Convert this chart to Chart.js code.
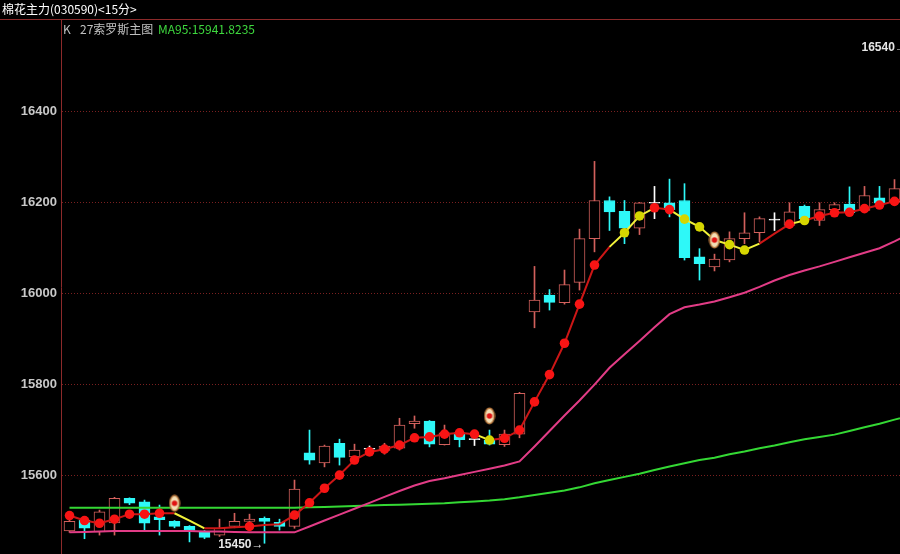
<!DOCTYPE html>
<html>
<head>
<meta charset="utf-8">
<script src="https://cdn.jsdelivr.net/npm/chart.js@4.4.1/dist/chart.umd.min.js"></script>
<style>
  html, body { margin: 0; padding: 0; background: #000; }
</style>
</head>
<body>
<canvas id="kline" width="900" height="554"></canvas>
<script>
// 15-minute bars, left to right
const open  = [15477,15501,15475,15495,15549,15541,15508,15498,15487,15476,15468,15487,15498,15505,15496,15487,15649,15627,15670,15640,15658,15654,15659,15713,15719,15667,15693,15679,15677,15667,15690,15959,15996,15979,16024,16120,16204,16180,16143,16199,16199,16204,16080,16058,16073,16120,16133,16162,16149,16191,16160,16184,16196,16182,16210,16201];
const high  = [15502,15503,15523,15551,15550,15545,15534,15500,15489,15478,15503,15516,15514,15508,15503,15589,15699,15666,15679,15668,15664,15670,15725,15730,15720,15710,15696,15695,15699,15699,15782,16059,16008,16051,16141,16290,16212,16204,16200,16235,16251,16241,16098,16086,16135,16177,16168,16177,16199,16194,16199,16199,16234,16235,16235,16250];
const low   = [15474,15460,15468,15468,15535,15476,15468,15484,15453,15460,15465,15484,15490,15450,15479,15483,15624,15618,15622,15637,15650,15646,15655,15703,15662,15666,15662,15665,15666,15663,15682,15924,15963,15976,16007,16091,16138,16109,16129,16164,16168,16073,16029,16049,16069,16109,16113,16138,16142,16156,16149,16180,16170,16178,16190,16195];
const close = [15498,15483,15519,15549,15538,15494,15502,15487,15478,15463,15483,15498,15503,15498,15487,15569,15633,15664,15639,15655,15658,15664,15710,15719,15668,15693,15678,15679,15668,15690,15780,15985,15980,16019,16120,16204,16179,16143,16199,16199,16184,16078,16065,16075,16120,16133,16164,16162,16179,16164,16184,16195,16177,16215,16198,16230];

// indicator line (one more point than bars, runs off the right edge)
const trend = [15511,15500,15494,15503,15514,15514,15516,15516,15500,15483,15483,15485,15487,15490,15492,15512,15539,15571,15600,15633,15651,15657,15666,15682,15684,15690,15693,15690,15677,15681,15699,15761,15821,15890,15976,16062,16102,16133,16170,16188,16184,16163,16146,16117,16107,16095,16109,16131,16152,16160,16170,16177,16178,16186,16194,16202,16212];
// dot type per point: r = red, y = yellow, '' = none
const trendDot = ['r','r','r','r','r','r','r','','','','','','r','','','r','r','r','r','r','r','r','r','r','r','r','r','r','y','r','r','r','r','r','r','r','','y','y','r','r','y','y','','y','y','','','r','y','r','r','r','r','r','r',''];
// segments starting at these points are drawn yellow
const yellowFrom = [7,8,27,36,37,38,40,41,42,43,44,45,48];

const maPink  = [15474,15475,15476,15477,15477,15477,15477,15477,15477,15476,15476,15475,15474,15474,15474,15474,15487,15500,15513,15526,15539,15552,15565,15577,15587,15593,15600,15607,15614,15621,15630,15663,15697,15731,15764,15799,15836,15866,15895,15925,15954,15969,15975,15982,15991,16001,16014,16028,16040,16050,16059,16069,16079,16089,16099,16114,16130];
const maGreen = [15528,15528,15528,15528,15528,15528,15528,15528,15528,15528,15528,15528,15528,15528,15528,15528,15529,15530,15531,15532,15533,15534,15535,15536,15537,15538,15540,15542,15544,15547,15551,15556,15561,15566,15573,15582,15589,15596,15603,15611,15619,15626,15633,15638,15646,15652,15659,15665,15672,15679,15684,15689,15697,15705,15713,15722,15730];

// signal markers: bar index and price
const signalAt  = [7, 28, 43];
const signalVal = [15538, 15730, 16117];

const yTicks = [15600, 15800, 16000, 16200, 16400];
const yMin = 15426.4, yMax = 16601;
const xMin = -0.5667, xMax = 55.3667;

const hiMark = { at: 52.8, value: 16540, text: '16540\u2192' };
const loMark = { at: 13, value: 15450, text: '15450\u2192' };

const UP = '#d2605c', DOWN = '#2ef8f8', FLAT = '#ffffff';
const RED_LINE = '#cc1616', YELLOW_LINE = '#f2f23a';

const idx = open.map((_, i) => i);
const tone = i => close[i] > open[i] ? UP : (close[i] < open[i] ? DOWN : FLAT);

function markerImage() {
  const c = document.createElement('canvas');
  c.width = 12; c.height = 18;
  const g = c.getContext('2d');
  g.fillStyle = '#b8783e';
  g.beginPath(); g.ellipse(6, 9, 5.5, 8.5, 0, 0, Math.PI * 2); g.fill();
  g.fillStyle = '#f3dfb6';
  g.beginPath(); g.ellipse(6, 9, 4, 7, 0, 0, Math.PI * 2); g.fill();
  g.fillStyle = '#e01212';
  g.beginPath(); g.arc(6, 9, 2.8, 0, Math.PI * 2); g.fill();
  return c;
}

const chrome = {
  id: 'chrome',
  beforeDraw(chart) {
    const ctx = chart.ctx;
    ctx.save();
    ctx.fillStyle = '#000';
    ctx.fillRect(0, 0, chart.width, chart.height);
    ctx.restore();
  },
  afterDraw(chart) {
    const ctx = chart.ctx;
    const xs = chart.scales.x, ys = chart.scales.y;
    ctx.save();
    ctx.strokeStyle = '#8c2a2a';
    ctx.lineWidth = 1;
    ctx.beginPath();
    ctx.moveTo(0, 19.5); ctx.lineTo(chart.width, 19.5);
    ctx.stroke();

    ctx.textBaseline = 'middle';
    ctx.font = '12px "Noto Sans CJK SC"';
    ctx.fillStyle = '#ffffff';
    ctx.fillText('棉花主力(030590)<15分>', 2, 9);
    ctx.fillStyle = '#c0c0c0';
    ctx.fillText('K', 63, 29);
    ctx.fillText('27索罗斯主图', 80, 29);
    ctx.fillStyle = '#3ed83e';
    ctx.fillText('MA95:15941.8235', 158, 29);

    ctx.font = 'bold 12px "Liberation Sans"';
    ctx.fillStyle = '#e6e6e6';
    ctx.textAlign = 'left';
    ctx.fillText(hiMark.text, xs.getPixelForValue(hiMark.at), ys.getPixelForValue(hiMark.value));
    ctx.textAlign = 'right';
    ctx.fillText(loMark.text, xs.getPixelForValue(loMark.at) - 1, ys.getPixelForValue(loMark.value) + 1);
    ctx.restore();
  }
};

new Chart(document.getElementById('kline'), {
  type: 'bar',
  data: {
    datasets: [
      {
        type: 'scatter',
        data: signalAt.map((x, k) => ({ x: x, y: signalVal[k] })),
        pointStyle: markerImage(),
        order: 0
      },
      {
        type: 'line',
        data: trend.map((v, i) => ({ x: i, y: v })),
        borderWidth: 2,
        borderColor: RED_LINE,
        segment: {
          borderColor: ctx => yellowFrom.includes(ctx.p0DataIndex) ? YELLOW_LINE : RED_LINE
        },
        pointRadius: trendDot.map(d => d ? 4.8 : 0),
        pointBackgroundColor: trendDot.map(d => d === 'y' ? '#d6d600' : '#f81414'),
        pointBorderWidth: 0,
        tension: 0,
        order: 1
      },
      {
        type: 'line',
        data: maPink.map((v, i) => ({ x: i, y: v })),
        borderColor: '#e23c86',
        borderWidth: 2,
        pointRadius: 0,
        tension: 0,
        order: 2
      },
      {
        type: 'line',
        data: maGreen.map((v, i) => ({ x: i, y: v })),
        borderColor: '#34d834',
        borderWidth: 2,
        pointRadius: 0,
        tension: 0,
        order: 3
      },
      {
        // candle bodies
        data: idx.map(i => ({ x: i, y: open[i] === close[i] ? [open[i] - 1.1, open[i] + 1.1] : [open[i], close[i]] })),
        grouped: false,
        barThickness: 11,
        backgroundColor: ctx => close[ctx.dataIndex] > open[ctx.dataIndex] ? '#000000' : tone(ctx.dataIndex),
        borderColor: ctx => tone(ctx.dataIndex),
        borderWidth: 1,
        borderSkipped: false,
        order: 4
      },
      {
        // wicks
        data: idx.map(i => ({ x: i, y: [low[i], high[i]] })),
        grouped: false,
        barThickness: 1,
        backgroundColor: ctx => tone(ctx.dataIndex),
        borderWidth: 0,
        order: 5
      }
    ]
  },
  options: {
    responsive: false,
    animation: false,
    layout: { autoPadding: false, padding: { top: 20, left: 0, right: 0, bottom: 0 } },
    plugins: {
      legend: { display: false },
      tooltip: { enabled: false }
    },
    scales: {
      x: {
        type: 'linear',
        display: false,
        offset: false,
        min: xMin,
        max: xMax
      },
      y: {
        min: yMin,
        max: yMax,
        afterBuildTicks: s => { s.ticks = yTicks.map(v => ({ value: v })); },
        afterFit: s => { s.width = 61; s.paddingTop = 0; s.paddingBottom = 0; },
        ticks: {
          color: '#c8c8c8',
          padding: 4,
          font: { family: 'Liberation Sans', size: 13, weight: 'bold' },
          callback: v => String(v)
        },
        grid: { color: '#7a2020', drawTicks: false, lineWidth: 1 },
        border: { display: true, color: '#8c2a2a', dash: [1, 2] }
      }
    }
  },
  plugins: [chrome]
});
</script>
</body>
</html>
